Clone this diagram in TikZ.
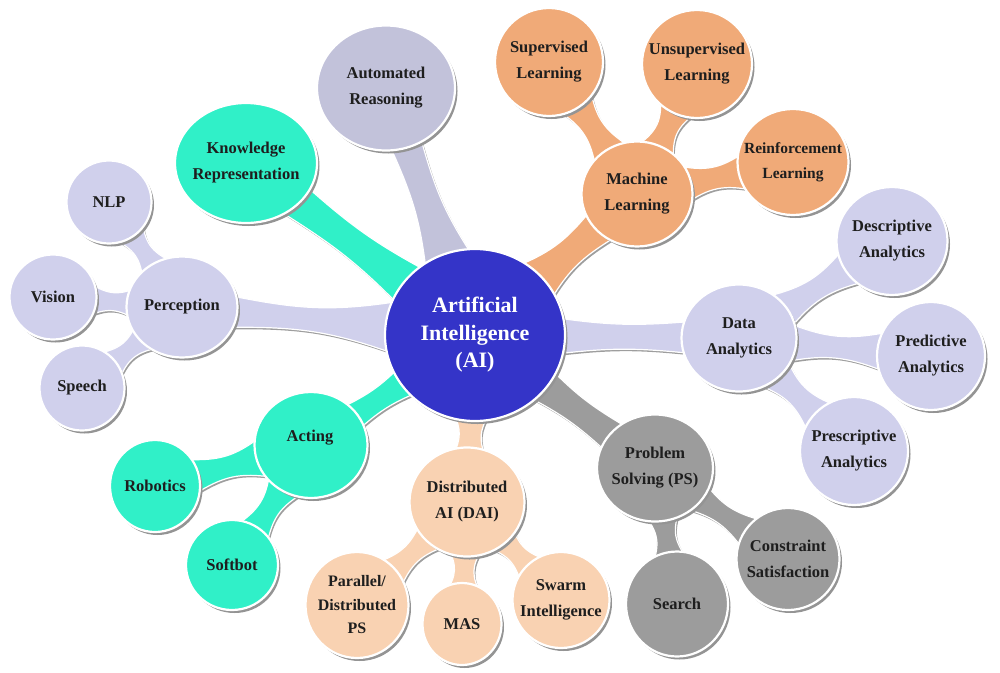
\documentclass[tikz,border=0pt]{standalone}
\usepackage{fontspec}
\setmainfont{Liberation Serif}
\usetikzlibrary{shapes.geometric,shadows,calc}
\pgfdeclarelayer{bg}
\pgfsetlayers{bg,main}
\definecolor{aiblue}{HTML}{3434C8}
\definecolor{mlorange}{HTML}{F0AA78}
\definecolor{peach}{HTML}{F9D2B2}
\definecolor{tealc}{HTML}{30F0C8}
\definecolor{lav}{HTML}{D0D0EC}
\definecolor{arcol}{HTML}{C2C2DA}
\definecolor{psgrey}{HTML}{9C9C9C}
\definecolor{txt}{HTML}{1E1E1E}
\tikzset{
  bubble/.style={ellipse, draw=white, line width=2.2pt, inner sep=0pt,
    drop shadow={shadow xshift=2.5pt, shadow yshift=-3pt, fill=black!42, opacity=1}},
  lbl/.style={align=center, text=txt, font=\bfseries\fontsize{16.5}{26}\selectfont, inner sep=0pt},
  ailbl/.style={align=center, text=white, font=\bfseries\fontsize{22}{27.5}\selectfont, inner sep=0pt},
}
\newcommand\bub[7]{%
  \node[bubble, fill=#6, minimum width=#4pt, minimum height=#5pt] (#1) at (#2,#3) {};
  \node[lbl] (#1t) at (#1) {#7};}
% \branch{from}{to}{r from}{r to}{half width at from}{half width of neck controls}{half width at to}{colour}
\newcommand\branch[8]{%
  \coordinate (bP) at ($(#1)!#3pt!(#2)$);
  \coordinate (bQ) at ($(#2)!#4pt!(#1)$);
  \path[fill=#8, draw=white, line width=1.2pt,
        preaction={fill=black!38, transform canvas={shift={(1.5pt,-2pt)}}}]
    ($(bP)!#5pt!90:(bQ)$)
      .. controls ($(bP)!0.4!(bQ)!#6pt!90:(bQ)$) and ($(bP)!0.6!(bQ)!#6pt!90:(bQ)$)
      .. ($(bQ)!#7pt!-90:(bP)$)
    -- ($(bQ)!#7pt!90:(bP)$)
      .. controls ($(bP)!0.6!(bQ)!#6pt!-90:(bQ)$) and ($(bP)!0.4!(bQ)!#6pt!-90:(bQ)$)
      .. ($(bP)!#5pt!-90:(bQ)$)
    -- cycle;}
\begin{document}
\begin{tikzpicture}[x=1pt,y=-1pt]
\useasboundingbox (0,0) rectangle (1000,672);
% central node
\node[bubble, fill=aiblue, minimum width=180pt, minimum height=172pt] (ai) at (475,335) {};
\node[ailbl] (ait) at (ai) {Artificial\\Intelligence\\(AI)};
% first level
\bub{kr}{246}{163}{142}{120}{tealc}{Knowledge\\Representation}
\bub{ar}{386}{88}{138}{125}{arcol}{Automated\\Reasoning}
\bub{ml}{637}{194}{111}{105}{mlorange}{Machine\\Learning}
\bub{da}{739}{338}{115}{107}{lav}{Data\\Analytics}
\bub{ps}{655}{468}{116}{107}{psgrey}{Problem\\Solving (PS)}
\bub{dai}{467}{502}{115}{109}{peach}{Distributed\\AI (DAI)}
\node[bubble, fill=tealc, minimum width=113pt, minimum height=106pt] (act) at (311,445) {};
\node[lbl] (actt) at (310,438) {Acting};
\bub{per}{182}{307}{111}{101}{lav}{Perception}
% second level
\bub{sup}{549}{62}{108}{108}{mlorange}{Supervised\\Learning}
\bub{uns}{697}{64}{110}{108}{mlorange}{Unsupervised\\Learning}
\node[bubble, fill=mlorange, minimum width=111pt, minimum height=106pt] (rei) at (793,162) {};
\node[lbl, font=\bfseries\fontsize{15.5}{25}\selectfont] (reit) at (rei) {Reinforcement\\Learning};
\bub{des}{892}{241}{111}{108}{lav}{Descriptive\\Analytics}
\bub{pre}{931}{356}{108}{108}{lav}{Predictive\\Analytics}
\bub{prs}{854}{451}{108}{108}{lav}{Prescriptive\\Analytics}
\bub{cs}{788}{559}{103}{102}{psgrey}{Constraint\\Satisfaction}
\bub{se}{677}{604}{102}{105}{psgrey}{Search}
\node[bubble, fill=peach, minimum width=103pt, minimum height=106pt] (par) at (357,605) {};
\node[lbl, font=\bfseries\fontsize{16}{23.5}\selectfont] (part) at (par) {Parallel/\\Distributed\\PS};
\bub{mas}{462}{624}{79}{82}{peach}{MAS}
\bub{swa}{561}{600}{97}{96}{peach}{Swarm\\Intelligence}
\bub{rob}{155}{486}{90}{92}{tealc}{Robotics}
\bub{sof}{232}{565}{92}{90}{tealc}{Softbot}
\bub{nlp}{109}{202}{85}{83}{lav}{NLP}
\bub{vis}{53}{297}{87}{85}{lav}{Vision}
\bub{spe}{82}{388}{85}{85}{lav}{Speech}
% connectors
\begin{pgfonlayer}{bg}
\branch{ai}{kr}{78}{58}{22}{13}{18}{tealc}
\branch{ai}{ar}{78}{55}{24}{12}{16}{arcol}
\branch{ai}{ml}{78}{46}{24}{12}{18}{mlorange}
\branch{ai}{da}{82}{48}{18}{11}{16}{lav}
\branch{ai}{ps}{80}{48}{18}{12}{16}{psgrey}
\branch{ai}{dai}{78}{46}{18}{9}{16}{peach}
\branch{ai}{act}{78}{46}{16}{10}{14}{tealc}
\branch{ai}{per}{80}{46}{26}{9}{16}{lav}
\branch{ml}{sup}{44}{44}{20}{8}{20}{mlorange}
\branch{ml}{uns}{44}{44}{20}{8}{20}{mlorange}
\branch{ml}{rei}{44}{44}{20}{8}{20}{mlorange}
\branch{da}{des}{46}{44}{20}{8}{20}{lav}
\branch{da}{pre}{46}{44}{20}{8}{20}{lav}
\branch{da}{prs}{46}{44}{20}{8}{20}{lav}
\branch{ps}{cs}{44}{41}{18}{7}{18}{psgrey}
\branch{ps}{se}{44}{42}{18}{7}{18}{psgrey}
\branch{dai}{par}{45}{42}{18}{7}{18}{peach}
\branch{dai}{mas}{45}{30}{18}{7}{18}{peach}
\branch{dai}{swa}{45}{38}{18}{7}{18}{peach}
\branch{act}{rob}{44}{36}{22}{8}{18}{tealc}
\branch{act}{sof}{44}{36}{20}{8}{18}{tealc}
\branch{per}{nlp}{42}{32}{18}{6}{18}{lav}
\branch{per}{vis}{42}{33}{18}{6}{18}{lav}
\branch{per}{spe}{42}{32}{18}{6}{18}{lav}
\end{pgfonlayer}
\end{tikzpicture}
\end{document}
